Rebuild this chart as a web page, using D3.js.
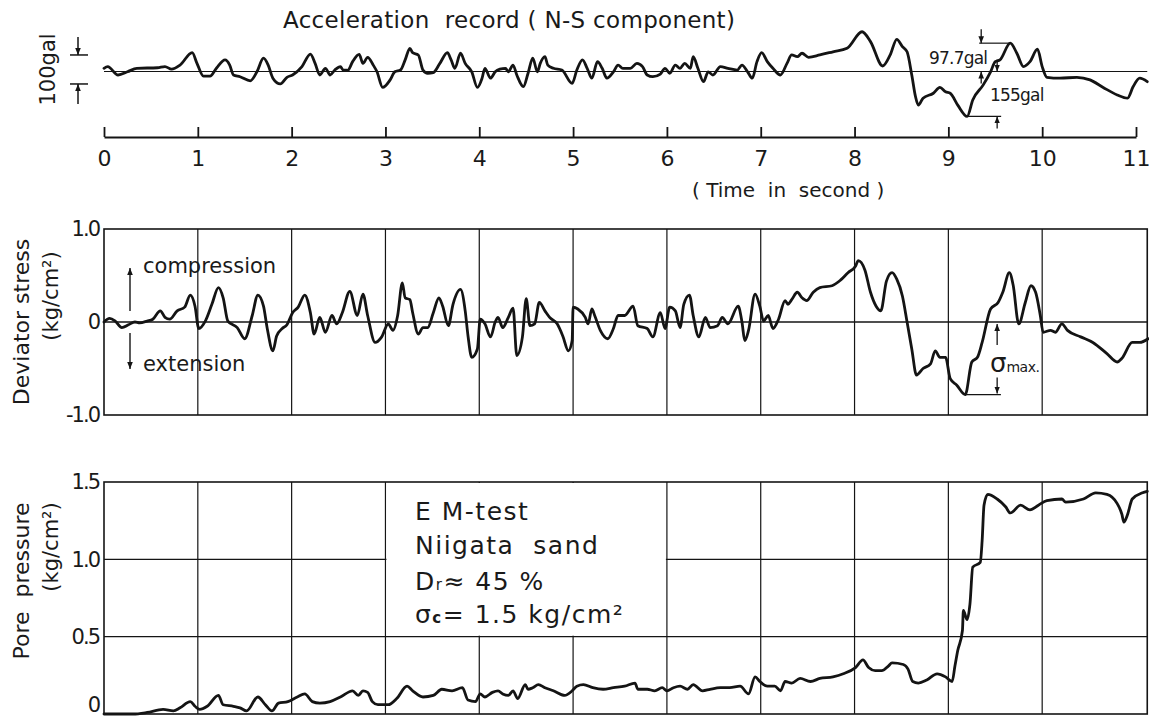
<!DOCTYPE html>
<html>
<head>
<meta charset="utf-8">
<script src="https://cdn.jsdelivr.net/npm/d3@7"></script>
<style>
  html, body { margin: 0; padding: 0; background: #fff; }
  svg { display: block; }
  text { font-family: "DejaVu Sans", sans-serif; fill: #1a1a1a; }
</style>
</head>
<body>
<svg id="chart" width="1149" height="720"></svg>
<script>
// ---- Data: [time (s), value] ----
// Base acceleration, N-S component (gal)
const accel = [[0,11],[0.04,17],[0.15,-12],[0.25,-1],[0.35,11],[0.57,13],[0.65,17],[0.72,8],[0.81,22],[0.94,65],[0.99,29],[1.06,-16],[1.13,-16],[1.20,12],[1.29,40],[1.34,22],[1.38,-12],[1.45,-18],[1.56,-32],[1.63,-1],[1.70,46],[1.75,22],[1.80,-23],[1.88,-43],[1.95,-20],[2.01,-12],[2.11,17],[2.20,60],[2.25,28],[2.30,-12],[2.36,11],[2.41,-12],[2.46,5],[2.52,17],[2.55,5],[2.60,5],[2.65,34],[2.72,59],[2.76,28],[2.81,49],[2.87,22],[2.91,-1],[2.97,-55],[3.05,-29],[3.10,-1],[3.16,5],[3.21,40],[3.26,80],[3.29,65],[3.35,57],[3.40,5],[3.45,-6],[3.51,-4],[3.58,28],[3.66,65],[3.70,40],[3.74,11],[3.80,63],[3.85,28],[3.92,-1],[3.98,-55],[4.03,-23],[4.06,11],[4.12,-23],[4.17,-1],[4.22,8],[4.28,11],[4.31,-1],[4.36,22],[4.40,-12],[4.47,-52],[4.52,-6],[4.57,46],[4.62,-1],[4.65,28],[4.70,51],[4.73,22],[4.79,11],[4.88,5],[4.99,-41],[5.04,5],[5.10,40],[5.15,11],[5.20,-23],[5.26,34],[5.31,11],[5.36,-23],[5.43,-1],[5.48,22],[5.53,11],[5.61,11],[5.68,28],[5.74,17],[5.79,-12],[5.85,-18],[5.93,-9],[5.98,11],[6.03,-6],[6.09,22],[6.14,11],[6.19,28],[6.25,11],[6.28,51],[6.33,11],[6.39,-35],[6.44,-1],[6.49,-12],[6.57,17],[6.65,11],[6.75,5],[6.80,22],[6.86,-1],[6.91,-23],[6.96,34],[7.01,65],[7.07,34],[7.13,11],[7.21,-12],[7.28,28],[7.33,57],[7.39,51],[7.44,63],[7.51,49],[7.63,57],[7.77,68],[7.92,80],[8.08,137],[8.17,103],[8.30,19],[8.38,57],[8.45,111],[8.51,86],[8.56,68],[8.61,-12],[8.65,-87],[8.68,-116],[8.73,-92],[8.84,-75],[8.91,-55],[8.97,-70],[9.02,-75],[9.10,-116],[9.20,-155],[9.26,-98],[9.37,-47],[9.45,-1],[9.50,34],[9.55,40],[9.66,97.7],[9.73,63],[9.80,17],[9.87,34],[9.95,77],[10.00,17],[10.05,-20],[10.19,-23],[10.37,-20],[10.51,-29],[10.65,-55],[10.80,-81],[10.91,-92],[10.97,-52],[11.04,-23],[11.12,-35]];

// Deviator stress (kg/cm²), compression positive
const deviator = [[0,0],[0.06,0.04],[0.12,0.01],[0.19,-0.06],[0.26,-0.03],[0.33,0],[0.38,-0.01],[0.46,0.01],[0.52,0.03],[0.60,0.12],[0.65,0.05],[0.70,0.03],[0.78,0.12],[0.86,0.16],[0.92,0.29],[0.97,0.17],[1.01,-0.07],[1.08,0.01],[1.15,0.19],[1.22,0.37],[1.27,0.26],[1.32,0.01],[1.42,-0.06],[1.50,-0.18],[1.58,0.07],[1.64,0.29],[1.70,0.17],[1.74,-0.07],[1.80,-0.31],[1.84,-0.15],[1.90,-0.07],[1.95,-0.03],[2.01,0.10],[2.07,0.16],[2.14,0.29],[2.20,0.10],[2.24,-0.13],[2.30,0.05],[2.36,-0.11],[2.43,0.07],[2.48,-0.02],[2.54,0.10],[2.62,0.33],[2.70,0.07],[2.76,0.30],[2.81,0.07],[2.89,-0.22],[2.96,-0.16],[3.03,-0.02],[3.08,-0.09],[3.13,0.07],[3.18,0.42],[3.21,0.26],[3.26,0.24],[3.29,0.10],[3.35,-0.13],[3.40,-0.06],[3.45,-0.06],[3.51,0.10],[3.57,0.26],[3.61,0.17],[3.67,-0.04],[3.72,0.19],[3.80,0.35],[3.85,0.12],[3.88,-0.15],[3.92,-0.38],[3.98,-0.29],[4.01,0.03],[4.06,-0.02],[4.12,-0.16],[4.17,0],[4.20,0.05],[4.25,-0.06],[4.31,0.05],[4.36,0.15],[4.40,-0.36],[4.46,-0.16],[4.50,0.25],[4.54,-0.04],[4.59,-0.02],[4.64,0.21],[4.70,0.12],[4.75,0.05],[4.83,-0.02],[4.89,-0.15],[4.95,-0.31],[4.99,-0.20],[5.00,0.16],[5.05,0.14],[5.13,0.05],[5.16,-0.02],[5.20,0.14],[5.23,0.07],[5.29,-0.09],[5.37,-0.18],[5.43,-0.07],[5.48,0.07],[5.55,0.07],[5.64,0.17],[5.69,-0.04],[5.79,-0.07],[5.85,-0.16],[5.93,0.10],[5.98,-0.07],[6.03,0.16],[6.09,0.12],[6.14,-0.06],[6.18,0.19],[6.24,0.29],[6.28,0.07],[6.34,-0.16],[6.41,0.05],[6.46,-0.06],[6.54,-0.04],[6.59,0.05],[6.65,-0.02],[6.76,0.17],[6.80,0],[6.83,-0.20],[6.87,-0.09],[6.94,0.30],[6.99,0.17],[7.03,0.01],[7.08,0.07],[7.13,-0.07],[7.19,0.03],[7.26,0.23],[7.29,0.19],[7.33,0.24],[7.39,0.32],[7.44,0.26],[7.49,0.23],[7.56,0.32],[7.63,0.37],[7.76,0.39],[7.85,0.45],[7.93,0.53],[8.01,0.60],[8.04,0.66],[8.11,0.56],[8.17,0.32],[8.23,0.17],[8.28,0.12],[8.34,0.44],[8.40,0.53],[8.45,0.46],[8.51,0.28],[8.56,0],[8.61,-0.29],[8.66,-0.57],[8.73,-0.50],[8.81,-0.45],[8.86,-0.31],[8.91,-0.38],[8.97,-0.38],[9.02,-0.61],[9.09,-0.68],[9.18,-0.78],[9.25,-0.43],[9.31,-0.38],[9.36,-0.22],[9.45,0.14],[9.53,0.21],[9.58,0.32],[9.65,0.53],[9.69,0.40],[9.75,-0.02],[9.82,0.21],[9.88,0.39],[9.93,0.32],[9.98,0.07],[10.01,-0.11],[10.09,-0.09],[10.14,-0.11],[10.21,-0.02],[10.27,-0.09],[10.41,-0.16],[10.54,-0.22],[10.69,-0.34],[10.80,-0.43],[10.85,-0.39],[10.96,-0.22],[11.04,-0.22],[11.13,-0.18]];

// Excess pore water pressure (kg/cm²)
const pore = [[0,0],[0.25,0],[0.31,0],[0.46,0.01],[0.63,0.03],[0.74,0.02],[0.81,0.04],[0.92,0.08],[0.97,0.05],[1.02,0.03],[1.10,0.05],[1.22,0.12],[1.27,0.06],[1.38,0.05],[1.45,0.04],[1.52,0.02],[1.64,0.11],[1.72,0.06],[1.79,0.02],[1.86,0.07],[1.96,0.08],[2.06,0.11],[2.14,0.13],[2.22,0.08],[2.30,0.07],[2.41,0.08],[2.52,0.11],[2.65,0.15],[2.71,0.12],[2.76,0.15],[2.81,0.14],[2.86,0.08],[2.92,0.06],[3.03,0.06],[3.12,0.10],[3.23,0.18],[3.29,0.15],[3.40,0.11],[3.51,0.12],[3.60,0.16],[3.71,0.15],[3.82,0.17],[3.88,0.09],[3.96,0.08],[4.01,0.13],[4.06,0.11],[4.14,0.14],[4.20,0.15],[4.25,0.13],[4.31,0.12],[4.36,0.15],[4.41,0.10],[4.49,0.19],[4.52,0.16],[4.57,0.17],[4.63,0.19],[4.70,0.17],[4.79,0.15],[4.91,0.12],[4.99,0.15],[5.04,0.18],[5.11,0.19],[5.21,0.17],[5.32,0.16],[5.43,0.17],[5.55,0.18],[5.66,0.20],[5.69,0.16],[5.79,0.16],[5.87,0.15],[5.95,0.17],[6.00,0.15],[6.07,0.17],[6.14,0.18],[6.22,0.16],[6.28,0.19],[6.38,0.15],[6.46,0.16],[6.57,0.17],[6.67,0.17],[6.78,0.18],[6.87,0.13],[6.94,0.24],[6.99,0.21],[7.07,0.18],[7.15,0.18],[7.21,0.15],[7.26,0.21],[7.33,0.20],[7.42,0.23],[7.53,0.21],[7.63,0.23],[7.77,0.24],[7.88,0.26],[8.01,0.30],[8.09,0.35],[8.15,0.30],[8.22,0.28],[8.29,0.28],[8.36,0.31],[8.40,0.33],[8.52,0.32],[8.57,0.29],[8.62,0.21],[8.68,0.20],[8.77,0.22],[8.88,0.26],[8.97,0.24],[9.04,0.21],[9.07,0.31],[9.10,0.41],[9.15,0.54],[9.16,0.67],[9.20,0.61],[9.23,0.71],[9.26,0.95],[9.34,0.98],[9.36,1.12],[9.38,1.35],[9.42,1.42],[9.52,1.39],[9.61,1.34],[9.66,1.30],[9.77,1.35],[9.87,1.32],[9.96,1.35],[10.05,1.38],[10.21,1.39],[10.25,1.37],[10.44,1.39],[10.57,1.43],[10.69,1.42],[10.80,1.36],[10.85,1.29],[10.87,1.24],[10.91,1.29],[10.96,1.39],[11.07,1.43],[11.12,1.44]];

// Axes and annotations
const timeTicks = d3.range(0, 12);
const recordEnd = 11.12;                 // s, end of plotted record
const deviatorTicks = [-1, 0, 1];
const deviatorTickLabels = ["-1.0", "0", "1.0"];
const poreTicks = [0, 0.5, 1.0, 1.5];
const poreTickLabels = ["0", "0.5", "1.0", "1.5"];
const poreGrid = [0.5, 1.0];
const accScaleBar = 100;                 // gal
const accPeak = { t: 9.66, v: 97.7, label: "97.7gal" };
const accTrough = { t: 9.20, v: -155, label: "155gal" };
const sigmaMax = { t: 9.18, v: -0.78 };
const testInfo = ["E M-test", "Niigata  sand", "Dr≈ 45 %", "σc= 1.5 kg/cm²"];

// ---- Drawing ----
const svg = d3.select("#chart");
const ink = "#141414";

const x = d3.scaleLinear().domain([0, 11]).range([104, 1136]);
const yAcc = d3.scaleLinear().domain([-100, 100]).range([100.5, 42.5]);
const yDev = d3.scaleLinear().domain([-1, 1]).range([415, 229]);
const yPore = d3.scaleLinear().domain([0, 1.5]).range([714, 482]);

const defs = svg.append("defs");
defs.append("marker").attr("id", "head")
  .attr("viewBox", "0 0 10 10").attr("refX", 10).attr("refY", 5)
  .attr("markerWidth", 7).attr("markerHeight", 7).attr("orient", "auto")
  .attr("markerUnits", "userSpaceOnUse")
  .append("path").attr("d", "M0,1 L10,5 L0,9 Z").attr("fill", ink);

function arrow(g, x1, y1, x2, y2, w) {
  g.append("line").attr("x1", x1).attr("y1", y1).attr("x2", x2).attr("y2", y2)
    .attr("stroke", ink).attr("stroke-width", w || 1.3).attr("marker-end", "url(#head)");
}

const traceStyle = sel => sel.attr("fill", "none").attr("stroke", ink)
  .attr("stroke-width", 2.8).attr("stroke-linejoin", "round").attr("stroke-linecap", "round");

// === Acceleration record ===
const gA = svg.append("g");
gA.append("text").attr("x", 283).attr("y", 28).attr("font-size", 23).attr("letter-spacing", 0.3)
  .style("white-space", "pre").text("Acceleration  record ( N-S component)");

gA.append("line").attr("x1", x(0)).attr("x2", x(recordEnd))
  .attr("y1", yAcc(0)).attr("y2", yAcc(0)).attr("stroke", ink).attr("stroke-width", 1.2);

gA.append("path").datum(accel)
  .attr("d", d3.line().x(d => x(d[0])).y(d => yAcc(d[1])).curve(d3.curveMonotoneX))
  .call(traceStyle);

// 100 gal scale bar
const barTop = yAcc(57), barBot = yAcc(57 - accScaleBar);
[barTop, barBot].forEach(yy => gA.append("line").attr("x1", 70).attr("x2", 88)
  .attr("y1", yy).attr("y2", yy).attr("stroke", ink).attr("stroke-width", 1.5));
arrow(gA, 78, barTop - 18, 78, barTop, 1.5);
arrow(gA, 78, barBot + 20, 78, barBot, 1.5);
gA.append("text").attr("transform", `translate(55,${(barTop + barBot) / 2}) rotate(-90)`)
  .attr("text-anchor", "middle").attr("font-size", 21).text(accScaleBar + "gal");

// Peak and trough dimensions
const xp = x(accPeak.t), xt = x(accTrough.t);
const xa1 = x(9.35), xa2 = x(9.52);
gA.append("line").attr("x1", xa1 - 2).attr("x2", xp).attr("y1", yAcc(accPeak.v)).attr("y2", yAcc(accPeak.v))
  .attr("stroke", ink).attr("stroke-width", 1.2);
arrow(gA, xa1, yAcc(accPeak.v) - 14, xa1, yAcc(accPeak.v));
arrow(gA, xa1, yAcc(0) + 12, xa1, yAcc(0));
gA.append("text").attr("x", xa1 + 6).attr("y", 64).attr("text-anchor", "end")
  .attr("font-size", 17).attr("letter-spacing", -0.8).text(accPeak.label);

gA.append("line").attr("x1", xt).attr("x2", xa2 + 4).attr("y1", yAcc(accTrough.v)).attr("y2", yAcc(accTrough.v))
  .attr("stroke", ink).attr("stroke-width", 1.2);
arrow(gA, xa2, yAcc(0) - 12, xa2, yAcc(0));
arrow(gA, xa2, yAcc(accTrough.v) + 12, xa2, yAcc(accTrough.v));
gA.append("text").attr("x", 990).attr("y", 101)
  .attr("font-size", 17).attr("letter-spacing", -0.8).text(accTrough.label);

// Time axis
const axisT = d3.axisBottom(x).tickValues(timeTicks).tickFormat(d3.format("d"))
  .tickSizeInner(-10).tickSizeOuter(0).tickPadding(13);
const gAx = svg.append("g").attr("transform", "translate(0,137)").call(axisT);
gAx.select(".domain").attr("stroke", ink).attr("stroke-width", 2);
gAx.selectAll(".tick line").attr("stroke", ink).attr("stroke-width", 1.8);
gAx.selectAll(".tick text").attr("font-size", 22).attr("fill", "#1a1a1a")
  .attr("font-family", "DejaVu Sans, sans-serif");
svg.append("text").attr("x", 692).attr("y", 197).attr("font-size", 20)
  .style("white-space", "pre").text("( Time  in  second )");

// === Deviator stress ===
const gD = svg.append("g");
const xEnd = x(recordEnd);
gD.selectAll("line.v").data(d3.range(1, 11)).join("line")
  .attr("x1", d => x(d)).attr("x2", d => x(d)).attr("y1", yDev(1)).attr("y2", yDev(-1))
  .attr("stroke", ink).attr("stroke-width", 1.2);
gD.append("line").attr("x1", x(0)).attr("x2", xEnd).attr("y1", yDev(0)).attr("y2", yDev(0))
  .attr("stroke", ink).attr("stroke-width", 1.3);
gD.append("rect").attr("x", x(0)).attr("y", yDev(1)).attr("width", xEnd - x(0))
  .attr("height", yDev(-1) - yDev(1)).attr("fill", "none").attr("stroke", ink).attr("stroke-width", 1.6);

const axD = d3.axisLeft(yDev).tickValues(deviatorTicks)
  .tickFormat((d, i) => deviatorTickLabels[i]).tickSize(0).tickPadding(5);
const gDax = gD.append("g").attr("transform", `translate(${x(0)},0)`).call(axD);
gDax.select(".domain").remove();
gDax.selectAll("text").attr("font-size", 21).attr("letter-spacing", -2).attr("fill", "#1a1a1a")
  .attr("font-family", "DejaVu Sans, sans-serif");

gD.append("path").datum(deviator)
  .attr("d", d3.line().x(d => x(d[0])).y(d => yDev(d[1])).curve(d3.curveMonotoneX))
  .call(traceStyle);

gD.append("text").attr("transform", `translate(29,${yDev(0)}) rotate(-90)`)
  .attr("text-anchor", "middle").attr("font-size", 22).text("Deviator stress");
gD.append("text").attr("transform", `translate(58,${yDev(0.28)}) rotate(-90)`)
  .attr("text-anchor", "middle").attr("font-size", 21).text("(kg/cm²)");

arrow(gD, 130, 311, 130, 268, 1.4);
arrow(gD, 130, 333, 130, 369, 1.4);
gD.append("text").attr("x", 143).attr("y", 273).attr("font-size", 21).text("compression");
gD.append("text").attr("x", 143).attr("y", 371).attr("font-size", 21).text("extension");

// σmax dimension
const xs = x(9.52);
gD.append("line").attr("x1", x(sigmaMax.t)).attr("x2", x(9.56)).attr("y1", yDev(sigmaMax.v)).attr("y2", yDev(sigmaMax.v))
  .attr("stroke", ink).attr("stroke-width", 1.2);
arrow(gD, xs, yDev(0) + 23, xs, yDev(0) + 2);
arrow(gD, xs, yDev(sigmaMax.v) - 17, xs, yDev(sigmaMax.v) - 1);
const sm = gD.append("text").attr("x", 990).attr("y", 372);
sm.append("tspan").attr("font-size", 26).text("σ");
sm.append("tspan").attr("font-size", 14).attr("letter-spacing", -0.5).text("max.");

// === Pore pressure ===
const gP = svg.append("g");
gP.selectAll("line.v").data(d3.range(1, 11)).join("line")
  .attr("x1", d => x(d)).attr("x2", d => x(d)).attr("y1", yPore(1.5)).attr("y2", yPore(0))
  .attr("stroke", ink).attr("stroke-width", 1.2);
gP.selectAll("line.h").data(poreGrid).join("line")
  .attr("x1", x(0)).attr("x2", xEnd).attr("y1", d => yPore(d)).attr("y2", d => yPore(d))
  .attr("stroke", ink).attr("stroke-width", 1.2);
// legend panel clears the grid between 3-6 s above 0.5
gP.append("rect").attr("x", x(3) + 1).attr("y", yPore(1.5) + 1)
  .attr("width", x(6) - x(3) - 2).attr("height", yPore(0.5) - yPore(1.5) - 2).attr("fill", "#fff");
gP.append("rect").attr("x", x(0)).attr("y", yPore(1.5)).attr("width", xEnd - x(0))
  .attr("height", yPore(0) - yPore(1.5)).attr("fill", "none").attr("stroke", ink).attr("stroke-width", 1.6);

const axP = d3.axisLeft(yPore).tickValues(poreTicks)
  .tickFormat((d, i) => poreTickLabels[i]).tickSize(0).tickPadding(5);
const gPax = gP.append("g").attr("transform", `translate(${x(0)},0)`).call(axP);
gPax.select(".domain").remove();
gPax.selectAll("text").attr("font-size", 21).attr("letter-spacing", -2).attr("fill", "#1a1a1a")
  .attr("font-family", "DejaVu Sans, sans-serif");
// keep the zero label inside the page
gPax.selectAll(".tick").filter(d => d === 0).select("text").attr("dy", "-0.12em");

gP.append("path").datum(pore)
  .attr("d", d3.line().x(d => x(d[0])).y(d => yPore(d[1])).curve(d3.curveMonotoneX))
  .call(traceStyle);

gP.append("text").attr("transform", `translate(29,${yPore(0.86)}) rotate(-90)`)
  .attr("text-anchor", "middle").attr("font-size", 22).style("white-space", "pre").text("Pore  pressure");
gP.append("text").attr("transform", `translate(58,${yPore(1.08)}) rotate(-90)`)
  .attr("text-anchor", "middle").attr("font-size", 21).text("(kg/cm²)");

// Test conditions
const info = gP.append("g").attr("transform", "translate(415,0)").attr("letter-spacing", 1.5);
info.append("text").attr("y", 520).attr("font-size", 25).style("white-space", "pre").text(testInfo[0]);
info.append("text").attr("y", 554).attr("font-size", 25).style("white-space", "pre").text(testInfo[1]);
const dr = info.append("text").attr("y", 590).attr("font-size", 25);
dr.append("tspan").text("D");
dr.append("tspan").attr("font-size", 15).text("r");
dr.append("tspan").style("white-space", "pre").text("≈ 45 %");
const sc = info.append("text").attr("y", 623).attr("font-size", 25);
sc.append("tspan").text("σ");
sc.append("tspan").attr("font-size", 15).attr("font-weight", "bold").text("c");
sc.append("tspan").style("white-space", "pre").text("= 1.5 kg/cm²");
</script>
</body>
</html>
